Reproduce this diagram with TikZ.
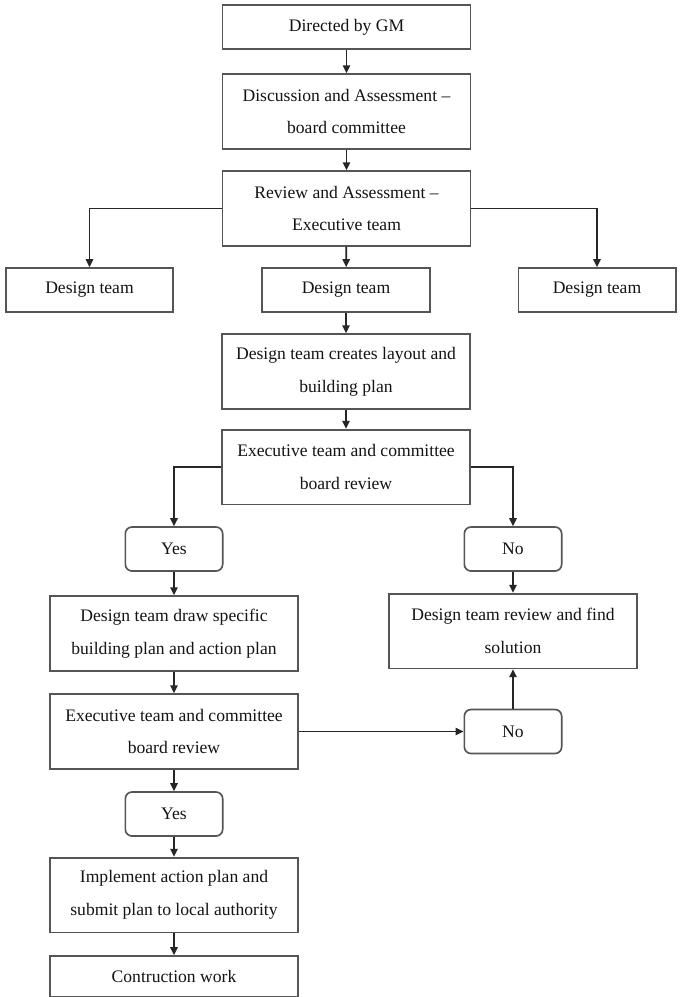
\documentclass[tikz,border=0pt]{standalone}
\usepackage{fontspec}
\setmainfont{Liberation Serif}
\usetikzlibrary{arrows.meta}
\definecolor{boxgray}{HTML}{555555}
\definecolor{linegray}{HTML}{262626}
\definecolor{textgray}{HTML}{141414}
\begin{document}
\begin{tikzpicture}[x=0.75pt,y=-0.75pt,
  box/.style={draw=boxgray, line width=1.25pt, rectangle, inner sep=0pt,
    align=center, text=textgray, font=\fontsize{13.2}{24.5}\selectfont},
  tall/.style={box, minimum width=186pt, minimum height=56pt},
  short/.style={box, minimum height=33pt},
  choice/.style={short, rounded corners=5pt, minimum width=73pt},
  arr/.style={-{Triangle[length=6pt,width=5.5pt]}, line width=1.25pt, draw=linegray},
]
\fill[white] (0,0) rectangle (679,997);
\useasboundingbox (0,0) rectangle (679,997);

% main column
\node[short, minimum width=186pt] (gm) at (346.5,27) {Directed by GM};
\node[tall] (disc) at (346.5,111.5) {Discussion and Assessment –\\board committee};
\node[tall] (rev) at (346.5,208.5) {Review and Assessment –\\Executive team};

% design teams
\node[short, minimum width=125pt] (dl) at (89.5,290) {Design team};
\node[short, minimum width=126pt] (dm) at (346,290) {Design team};
\node[short, minimum width=118pt] (dr) at (597,290) {Design team};

\node[tall] (create) at (346,371.5) {Design team creates layout and\\building plan};
\node[tall] (exec1) at (346,467) {Executive team and committee\\board review};

% first decision
\node[choice] (yes1) at (174,549) {Yes};
\node[choice] (no1) at (513,549) {No};

\node[tall] (draw) at (174,633.5) {Design team draw specific\\building plan and action plan};
\node[tall] (sol) at (513,631) {Design team review and find\\solution};
\node[tall] (exec2) at (174,731.5) {Executive team and committee\\board review};

% second decision
\node[choice] (no2) at (513,731.5) {No};
\node[choice] (yes2) at (174,814) {Yes};

\node[tall] (impl) at (174,895) {Implement action plan and\\submit plan to local authority};
\node[box, minimum width=186pt, minimum height=30.75pt] (constr) at (174,976.5) {Contruction work};

% connectors
\draw[arr] (gm) -- (disc);
\draw[arr] (disc) -- (rev);
\draw[arr] (rev.west) -| (dl.north);
\draw[arr] (rev.east) -| (dr.north);
\draw[arr] (rev) -- (dm);
\draw[arr] (dm) -- (create);
\draw[arr] (create) -- (exec1);
\draw[arr] (exec1.west) -| (yes1.north);
\draw[arr] (exec1.east) -| (no1.north);
\draw[arr] (yes1) -- (draw);
\draw[arr] (no1) -- (sol);
\draw[arr] (draw) -- (exec2);
\draw[arr] (exec2.east) -- (no2.west);
\draw[arr] (no2) -- (sol);
\draw[arr] (exec2) -- (yes2);
\draw[arr] (yes2) -- (impl);
\draw[arr] (impl) -- (constr);
\end{tikzpicture}
\end{document}
